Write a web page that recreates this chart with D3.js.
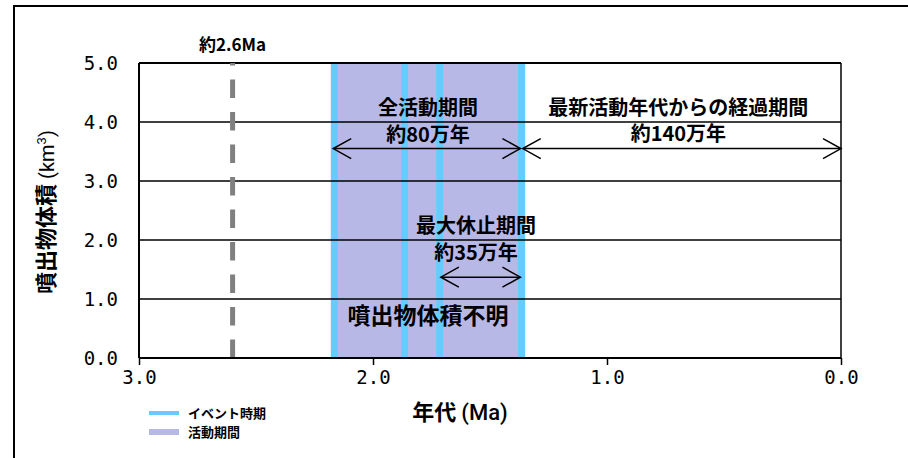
<!DOCTYPE html>
<html>
<head>
<meta charset="utf-8">
<script src="https://cdn.jsdelivr.net/npm/d3@7"></script>
<style>
  body { margin: 0; background: #fff; }
  svg { display: block; }
  .jp { font-family: "Noto Sans CJK JP", sans-serif; font-weight: bold; }
  .axis text { font-family: "DejaVu Sans Mono", monospace; font-size: 19px; fill: #000; }
</style>
</head>
<body>
<div id="graph"></div>
<script>
// tick values
var xTicks = [3.0, 2.0, 1.0, 0.0];
var yTicks = [0, 1, 2, 3, 4, 5];

// event periods (Ma, older -> younger) and whole active period
var eventPeriods = [[2.18, 2.15], [1.88, 1.85], [1.73, 1.70], [1.38, 1.35]];
var activePeriod = [2.18, 1.35];

// reference age marked by the dashed line
var markerAge = 2.6;
var markerLabel = "約2.6Ma";

// annotated spans: arrow from/to (Ma), arrow level, label lines
var spanNames = ["全活動期間", "最新活動年代からの経過期間", "最大休止期間"];
var spanValues = ["約80万年", "約140万年", "約35万年"];
var spanFrom = [2.17, 1.36, 1.71];
var spanTo = [1.37, 0.0, 1.37];
var spanLevel = [3.55, 3.55, 1.37];
var spanLabelX = [1.765, 0.695, 1.56];
var spanNameY = [4.12, 4.12, 2.12];
var spanValueY = [3.66, 3.67, 1.66];

var unknownLabel = "噴出物体積不明";

var margin = {top: 63, left: 139},
    w = 702,
    h = 295;

var x = d3.scaleLinear().domain([3, 0]).range([0, w]);
var y = d3.scaleLinear().domain([0, 5]).range([h, 0]);

var svg = d3.select("#graph").append("svg")
    .attr("width", 908)
    .attr("height", 458);

// outer frame (left and top edges visible)
svg.append("path")
    .attr("d", "M14,458 L14,6 L908,6")
    .attr("fill", "none")
    .attr("stroke", "#000")
    .attr("stroke-width", 2);

var g = svg.append("g")
    .attr("transform", "translate(" + margin.left + "," + margin.top + ")");

// activity period
g.append("rect")
    .attr("x", x(activePeriod[0]))
    .attr("y", 0)
    .attr("width", x(activePeriod[1]) - x(activePeriod[0]))
    .attr("height", h)
    .attr("fill", "#b8b8e6");

// event bands
g.selectAll(".event")
    .data(eventPeriods)
    .enter().append("rect")
    .attr("class", "event")
    .attr("x", function(d) { return x(d[0]); })
    .attr("y", 0)
    .attr("width", function(d) { return x(d[1]) - x(d[0]); })
    .attr("height", h)
    .attr("fill", "#66ccff");

// horizontal grid
g.selectAll(".grid")
    .data(yTicks.filter(function(d) { return d > 0 && d < 5; }))
    .enter().append("line")
    .attr("class", "grid")
    .attr("x1", 0).attr("x2", w)
    .attr("y1", function(d) { return y(d); })
    .attr("y2", function(d) { return y(d); })
    .attr("stroke", "#000")
    .attr("stroke-width", 1.5);

// top border and right border
g.append("line")
    .attr("x1", 0).attr("x2", w)
    .attr("y1", y(5)).attr("y2", y(5))
    .attr("stroke", "#000").attr("stroke-width", 2);
g.append("line")
    .attr("x1", x(0)).attr("x2", x(0))
    .attr("y1", y(0)).attr("y2", y(5))
    .attr("stroke", "#000").attr("stroke-width", 1.5);

// dashed marker
g.append("line")
    .attr("x1", x(markerAge)).attr("x2", x(markerAge))
    .attr("y1", y(0)).attr("y2", y(5))
    .attr("stroke", "#808080")
    .attr("stroke-width", 5)
    .attr("stroke-dasharray", "18.5,14");

g.append("text")
    .attr("class", "jp")
    .attr("x", x(markerAge))
    .attr("y", y(5.2))
    .attr("text-anchor", "middle")
    .style("font-size", "17px")
    .text(markerLabel);

// axes
var xAxis = d3.axisBottom(x).tickValues(xTicks).tickSize(7).tickPadding(6)
    .tickFormat(d3.format(".1f"));
var yAxis = d3.axisLeft(y).tickValues(yTicks).tickSize(0).tickPadding(21)
    .tickFormat(d3.format(".1f"));

var gx = g.append("g")
    .attr("class", "x axis")
    .attr("transform", "translate(0," + h + ")")
    .call(xAxis);
gx.select(".domain").attr("stroke-width", 2).attr("d", "M0,0H" + w);
gx.selectAll(".tick line").attr("stroke-width", 1.5);

var gy = g.append("g")
    .attr("class", "y axis")
    .call(yAxis);
gy.select(".domain").attr("stroke-width", 2).attr("d", "M0,0V" + h);

// arrows
function arrow(x1, x2, yy) {
    var a = g.append("g").attr("fill", "none").attr("stroke", "#000").attr("stroke-width", 1.5);
    a.append("line").attr("x1", x1).attr("x2", x2).attr("y1", yy).attr("y2", yy);
    a.append("path").attr("d", "M" + (x1 + 18) + "," + (yy - 10) + " L" + x1 + "," + yy + " L" + (x1 + 18) + "," + (yy + 10));
    a.append("path").attr("d", "M" + (x2 - 18) + "," + (yy - 10) + " L" + x2 + "," + yy + " L" + (x2 - 18) + "," + (yy + 10));
}

spanNames.forEach(function(name, i) {
    arrow(x(spanFrom[i]), x(spanTo[i]), y(spanLevel[i]));
    g.append("text")
        .attr("class", "jp")
        .attr("x", x(spanLabelX[i]))
        .attr("y", y(spanNameY[i]))
        .attr("text-anchor", "middle")
        .style("font-size", "20px")
        .text(name);
    g.append("text")
        .attr("class", "jp")
        .attr("x", x(spanLabelX[i]))
        .attr("y", y(spanValueY[i]))
        .attr("text-anchor", "middle")
        .style("font-size", "20px")
        .text(spanValues[i]);
});

g.append("text")
    .attr("class", "jp")
    .attr("x", x(1.765))
    .attr("y", y(0.58))
    .attr("text-anchor", "middle")
    .style("font-size", "23px")
    .text(unknownLabel);

// axis titles
var xt = svg.append("text")
    .attr("class", "jp")
    .attr("x", 460)
    .attr("y", 420)
    .attr("text-anchor", "middle")
    .style("font-size", "22px");
xt.append("tspan").text("年代 ");
xt.append("tspan").style("font-family", "Roboto, sans-serif").style("font-weight", "500").text("(Ma)");

var yt = svg.append("text")
    .attr("class", "jp")
    .attr("transform", "translate(54,212) rotate(-90)")
    .attr("text-anchor", "middle")
    .style("font-size", "22px");
yt.append("tspan").text("噴出物体積 ");
yt.append("tspan").style("font-family", "Roboto, sans-serif").style("font-weight", "normal").style("font-size", "20px").text("(km");
yt.append("tspan").style("font-family", "Roboto, sans-serif").style("font-weight", "normal").style("font-size", "13px").attr("dy", -8).text("3");
yt.append("tspan").style("font-family", "Roboto, sans-serif").style("font-weight", "normal").style("font-size", "20px").attr("dy", 8).text(")");

// legend
var legendItems = ["イベント時期", "活動期間"];
var legendColors = ["#66ccff", "#b8b8e6"];
var legendHeights = [4, 6];
var lg = svg.append("g").attr("transform", "translate(149,407)");
legendItems.forEach(function(name, i) {
    lg.append("rect")
        .attr("x", 0)
        .attr("y", i * 19 + 6 - legendHeights[i] / 2)
        .attr("width", 30)
        .attr("height", legendHeights[i])
        .attr("fill", legendColors[i]);
    lg.append("text")
        .attr("class", "jp")
        .attr("x", 39)
        .attr("y", i * 19 + 11)
        .style("font-size", "13px")
        .text(name);
});
</script>
</body>
</html>
